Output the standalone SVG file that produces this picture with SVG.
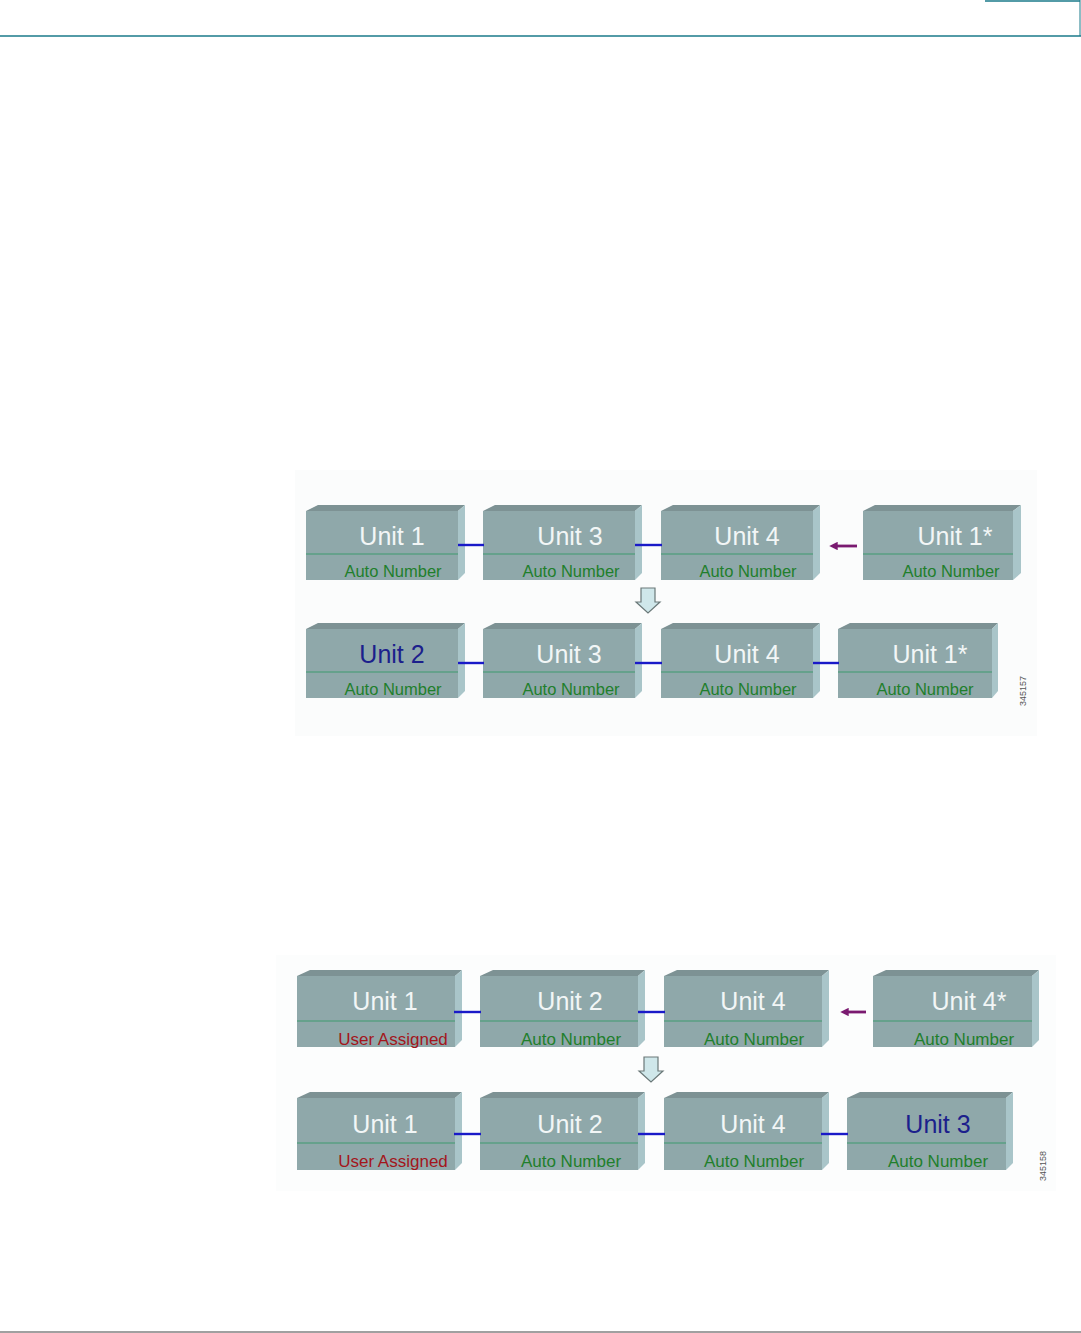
<svg xmlns="http://www.w3.org/2000/svg" width="1081" height="1333" viewBox="0 0 1081 1333">
<defs>
<style>
.front{fill:#8fa8aa}
.top{fill:#7d9294}
.side{fill:#a9c5c9}
.div{stroke:#3f9a6e;stroke-width:1.2}
.u{font-family:"Liberation Sans",Arial,sans-serif;fill:#f2f6f6;text-anchor:middle}
.ub{fill:#1c1f8c}
.s{font-family:"Liberation Sans",Arial,sans-serif;fill:#1f7f2c;text-anchor:middle}
.sr{fill:#a3161c}
.t1{font-size:25px}
.t2{font-size:25px}
.s1{font-size:16.5px}
.s2{font-size:17px}
.link{stroke:#1a1ac8;stroke-width:2.4;fill:none}
.move{stroke:#7a1a70;stroke-width:2.8;fill:none}
.down{fill:#cfe7ea;stroke:#6a7878;stroke-width:1.2}
.fig{font-family:"Liberation Sans",Arial,sans-serif;font-size:9px;fill:#555}
</style>
<marker id="ah" viewBox="0 0 10 10" refX="2" refY="5" markerWidth="3" markerHeight="3" orient="auto-start-reverse">
<path d="M0,0 L10,5 L0,10 z" fill="#7a1a70"/>
</marker>
</defs>
<rect width="1081" height="1333" fill="#ffffff"/>
<g id="header">
<line x1="0" y1="36" x2="1081" y2="36" stroke="#1a7a8a" stroke-width="1.5"/>
<line x1="1080" y1="0" x2="1080" y2="36" stroke="#1a7a8a" stroke-width="1"/>
<line x1="985" y1="1" x2="1080" y2="1" stroke="#1a7a8a" stroke-width="1.5"/>
</g>
<g id="footer">
<line x1="0" y1="1332" x2="1081" y2="1332" stroke="#808080" stroke-width="1.5"/>
</g>
<rect x="295" y="470" width="742" height="266" fill="#fbfcfc"/>
<rect x="276" y="955" width="780" height="236" fill="#fcfdfd"/>

<!-- ===== Figure 1 ===== -->
<g id="f1a1"><polygon class="top" points="306,511 318,505 465,505 458,511"/><rect class="front" x="306" y="511" width="152" height="69"/><polygon class="side" points="458,511 465,505 465,573 458,580"/><line class="div" x1="306" y1="554" x2="458" y2="554"/><text class="u t1" x="392" y="545">Unit 1</text><text class="s s1" x="393" y="577">Auto Number</text></g>
<g id="f1a2"><polygon class="top" points="483,511 495,505 642,505 635,511"/><rect class="front" x="483" y="511" width="152" height="69"/><polygon class="side" points="635,511 642,505 642,573 635,580"/><line class="div" x1="483" y1="554" x2="635" y2="554"/><text class="u t1" x="570" y="545">Unit 3</text><text class="s s1" x="571" y="577">Auto Number</text></g>
<g id="f1a3"><polygon class="top" points="661,511 673,505 820,505 813,511"/><rect class="front" x="661" y="511" width="152" height="69"/><polygon class="side" points="813,511 820,505 820,573 813,580"/><line class="div" x1="661" y1="554" x2="813" y2="554"/><text class="u t1" x="747" y="545">Unit 4</text><text class="s s1" x="748" y="577">Auto Number</text></g>
<g id="f1a4"><polygon class="top" points="863,511 875,505 1021,505 1013,511"/><rect class="front" x="863" y="511" width="150" height="69"/><polygon class="side" points="1013,511 1021,505 1021,573 1013,580"/><line class="div" x1="863" y1="554" x2="1013" y2="554"/><text class="u t1" x="955" y="545">Unit 1*</text><text class="s s1" x="951" y="577">Auto Number</text></g>

<g id="f1b1"><polygon class="top" points="306,629 318,623 465,623 458,629"/><rect class="front" x="306" y="629" width="152" height="69"/><polygon class="side" points="458,629 465,623 465,691 458,698"/><line class="div" x1="306" y1="672" x2="458" y2="672"/><text class="u ub t1" x="392" y="663">Unit 2</text><text class="s s1" x="393" y="695">Auto Number</text></g>
<g id="f1b2"><polygon class="top" points="483,629 495,623 642,623 635,629"/><rect class="front" x="483" y="629" width="152" height="69"/><polygon class="side" points="635,629 642,623 642,691 635,698"/><line class="div" x1="483" y1="672" x2="635" y2="672"/><text class="u t1" x="569" y="663">Unit 3</text><text class="s s1" x="571" y="695">Auto Number</text></g>
<g id="f1b3"><polygon class="top" points="661,629 673,623 820,623 813,629"/><rect class="front" x="661" y="629" width="152" height="69"/><polygon class="side" points="813,629 820,623 820,691 813,698"/><line class="div" x1="661" y1="672" x2="813" y2="672"/><text class="u t1" x="747" y="663">Unit 4</text><text class="s s1" x="748" y="695">Auto Number</text></g>
<g id="f1b4"><polygon class="top" points="838,629 850,623 998,623 992,629"/><rect class="front" x="838" y="629" width="154" height="69"/><polygon class="side" points="992,629 998,623 998,691 992,698"/><line class="div" x1="838" y1="672" x2="992" y2="672"/><text class="u t1" x="930" y="663">Unit 1*</text><text class="s s1" x="925" y="695">Auto Number</text></g>
<text class="fig" transform="translate(1026,706) rotate(-90)">345157</text>

<!-- ===== Figure 2 ===== -->
<g id="f2a1"><polygon class="top" points="297,976 310,970 462,970 455,976"/><rect class="front" x="297" y="976" width="158" height="71"/><polygon class="side" points="455,976 462,970 462,1040 455,1047"/><line class="div" x1="297" y1="1021" x2="455" y2="1021"/><text class="u t2" x="385" y="1010">Unit 1</text><text class="s sr s2" x="393" y="1045">User Assigned</text></g>
<g id="f2a2"><polygon class="top" points="480,976 493,970 645,970 638,976"/><rect class="front" x="480" y="976" width="158" height="71"/><polygon class="side" points="638,976 645,970 645,1040 638,1047"/><line class="div" x1="480" y1="1021" x2="638" y2="1021"/><text class="u t2" x="570" y="1010">Unit 2</text><text class="s s2" x="571" y="1045">Auto Number</text></g>
<g id="f2a3"><polygon class="top" points="664,976 677,970 829,970 822,976"/><rect class="front" x="664" y="976" width="158" height="71"/><polygon class="side" points="822,976 829,970 829,1040 822,1047"/><line class="div" x1="664" y1="1021" x2="822" y2="1021"/><text class="u t2" x="753" y="1010">Unit 4</text><text class="s s2" x="754" y="1045">Auto Number</text></g>
<g id="f2a4"><polygon class="top" points="873,976 886,970 1039,970 1032,976"/><rect class="front" x="873" y="976" width="159" height="71"/><polygon class="side" points="1032,976 1039,970 1039,1040 1032,1047"/><line class="div" x1="873" y1="1021" x2="1032" y2="1021"/><text class="u t2" x="969" y="1010">Unit 4*</text><text class="s s2" x="964" y="1045">Auto Number</text></g>

<g id="f2b1"><polygon class="top" points="297,1098 310,1092 462,1092 455,1098"/><rect class="front" x="297" y="1098" width="158" height="72"/><polygon class="side" points="455,1098 462,1092 462,1163 455,1170"/><line class="div" x1="297" y1="1143" x2="455" y2="1143"/><text class="u t2" x="385" y="1133">Unit 1</text><text class="s sr s2" x="393" y="1167">User Assigned</text></g>
<g id="f2b2"><polygon class="top" points="480,1098 493,1092 645,1092 638,1098"/><rect class="front" x="480" y="1098" width="158" height="72"/><polygon class="side" points="638,1098 645,1092 645,1163 638,1170"/><line class="div" x1="480" y1="1143" x2="638" y2="1143"/><text class="u t2" x="570" y="1133">Unit 2</text><text class="s s2" x="571" y="1167">Auto Number</text></g>
<g id="f2b3"><polygon class="top" points="664,1098 677,1092 829,1092 822,1098"/><rect class="front" x="664" y="1098" width="158" height="72"/><polygon class="side" points="822,1098 829,1092 829,1163 822,1170"/><line class="div" x1="664" y1="1143" x2="822" y2="1143"/><text class="u t2" x="753" y="1133">Unit 4</text><text class="s s2" x="754" y="1167">Auto Number</text></g>
<g id="f2b4"><polygon class="top" points="847,1098 860,1092 1013,1092 1006,1098"/><rect class="front" x="847" y="1098" width="159" height="72"/><polygon class="side" points="1006,1098 1013,1092 1013,1163 1006,1170"/><line class="div" x1="847" y1="1143" x2="1006" y2="1143"/><text class="u ub t2" x="938" y="1133">Unit 3</text><text class="s s2" x="938" y="1167">Auto Number</text></g>
<text class="fig" transform="translate(1046,1181) rotate(-90)">345158</text>

<g id="connectors">
<line class="link" x1="458" y1="545" x2="484" y2="545"/>
<line class="link" x1="635" y1="545" x2="662" y2="545"/>
<line class="move" x1="857" y1="546" x2="836" y2="546" marker-end="url(#ah)"/>
<polygon class="down" points="641,588 655,588 655,602 660,602 648,613 636,602 641,602"/>
<line class="link" x1="458" y1="663" x2="484" y2="663"/>
<line class="link" x1="635" y1="663" x2="662" y2="663"/>
<line class="link" x1="813" y1="663" x2="839" y2="663"/>

<line class="link" x1="454" y1="1012" x2="481" y2="1012"/>
<line class="link" x1="638" y1="1012" x2="665" y2="1012"/>
<line class="move" x1="866" y1="1012" x2="847" y2="1012" marker-end="url(#ah)"/>
<polygon class="down" points="644,1057 658,1057 658,1071 663,1071 651,1082 639,1071 644,1071"/>
<line class="link" x1="454" y1="1134" x2="481" y2="1134"/>
<line class="link" x1="638" y1="1134" x2="665" y2="1134"/>
<line class="link" x1="821" y1="1134" x2="848" y2="1134"/>
</g>
</svg>
